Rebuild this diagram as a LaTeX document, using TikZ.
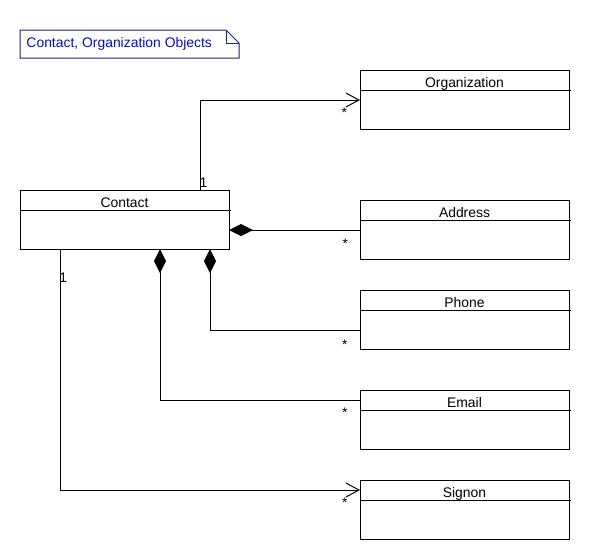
\documentclass[tikz,border=0pt]{standalone}
\usepackage{fontspec}
\setmainfont{Liberation Sans}
\usetikzlibrary{arrows.meta,calc,positioning}
\definecolor{noteblue}{RGB}{30,30,140}
\definecolor{notetext}{RGB}{10,10,190}
\newcommand{\classe}[4]{% Cria uma classe: nome, x, y, titulo
\tikzstyle{classbox}=[draw,line width=1pt,inner sep=0pt,outer sep=0pt,minimum width=209pt,minimum height=59pt]
\tikzstyle{classname}=[draw=none,inner sep=0pt,anchor=base]
%
\node [classbox,anchor=north west] (#1) at (#2,#3) {};
\node [classname] (#1t) at (#2+104.5,#3+17) {#4};
\draw [line width=1pt] (#2,#3+20) -- (#2+211,#3+20); %% divisao do nome
}

\begin{document}
\begin{tikzpicture}[x=1pt,y=-1pt,font=\fontsize{13.9}{16}\selectfont,
  every node/.style={outer sep=0pt},
  mult/.style={inner sep=0pt,anchor=base west},
  assoc/.style={line width=1pt,-{Straight Barb[length=13pt,width=14pt,line width=1pt]}},
  comp/.style={line width=1pt,{Diamond[length=24pt,width=12pt,fill=black]}-}]
\useasboundingbox (0,0) rectangle (590,560);
%
\draw [noteblue,line width=1pt] (20,30) -- (226,30) -- (239,43) -- (239,58) -- (20,58) -- cycle;
\draw [noteblue,line width=1pt] (226,30) -- (226,43) -- (239,43);
\node [inner sep=0pt,anchor=base west,text=notetext] (notetitle) at (26.5,47.5) {Contact, Organization Objects};
%
\classe{contact}{20}{190}{Contact}
\classe{org}{360}{70}{Organization}
\classe{address}{360}{200}{Address}
\classe{phone}{360}{290}{Phone}
\classe{email}{360}{390}{Email}
\classe{signon}{360}{480}{Signon}
%
\coordinate (c1) at ($(contact.north west)+(180,0)$);
\coordinate (c2) at ($(contact.south west)+(190,0)$);
\coordinate (c3) at ($(contact.south west)+(140,0)$);
\coordinate (c4) at ($(contact.south west)+(40,0)$);
\coordinate (o1) at ($(org.north west)+(0,30)$);
\coordinate (a1) at ($(address.north west)+(0,30)$);
\coordinate (p1) at ($(phone.north west)+(0,40)$);
\coordinate (e1) at ($(email.north west)+(0,10)$);
\coordinate (s1) at ($(signon.north west)+(0,10)$);
%
\draw [assoc] (c1) |- (o1);
\draw [comp] (contact.east |- a1) -- (a1);
\draw [comp] (c2) |- (p1);
\draw [comp] (c3) |- (e1);
\draw [assoc] (c4) |- (s1);
%
\node [mult] (m1) at ($(c1)+(-0.5,-2.5)$) {1};
\node [mult] (m2) at ($(c4)+(-0.5,33.5)$) {1};
\node [mult] (n1) at ($(o1)+(-18.5,17)$) {*};
\node [mult] (n2) at ($(a1)+(-17.5,18)$) {*};
\node [mult] (n3) at ($(p1)+(-18,19)$) {*};
\node [mult] (n4) at ($(e1)+(-18,17)$) {*};
\node [mult] (n5) at ($(s1)+(-18,17)$) {*};
\end{tikzpicture}
\end{document}
